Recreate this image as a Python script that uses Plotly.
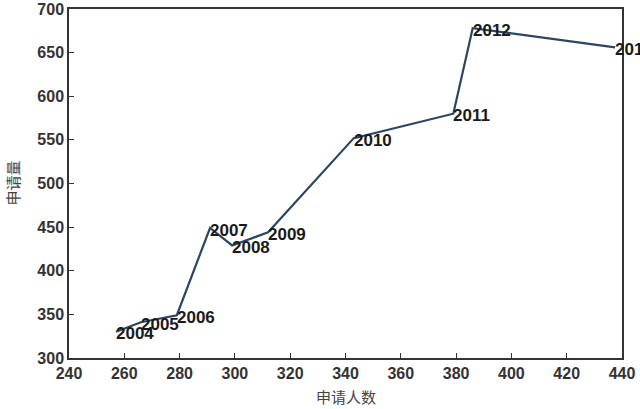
import plotly.graph_objects as go

years = ["2004", "2005", "2006", "2007", "2008", "2009", "2010", "2011", "2012", "2013"]
applicants = [257, 266, 279, 291, 299, 312, 343, 379, 386, 437.5]
applications = [330, 341, 349, 449, 429, 444, 552, 580, 678, 656]

x_ticks = [240, 260, 280, 300, 320, 340, 360, 380, 400, 420, 440]
y_ticks = [300, 350, 400, 450, 500, 550, 600, 650, 700]

fig = go.Figure()
fig.add_trace(go.Scatter(
    x=applicants, y=applications, mode="lines",
    line=dict(color="#2c4560", width=2.2),
    showlegend=False, hoverinfo="skip",
))

point_labels = [
    dict(text=t, x=xv, y=yv, xref="x", yref="y", showarrow=False,
         xanchor="left", yanchor="middle", xshift=-2, yshift=-2,
         font=dict(family="Liberation Sans", size=17, color="#1a1a1a", weight="bold"))
    for t, xv, yv in zip(years, applicants, applications)
]

axis_common = dict(
    showgrid=False, zeroline=False, showline=True, linecolor="#333333", linewidth=1.5,
    mirror=True, ticks="inside", ticklen=5, tickcolor="#333333", automargin=False,
    tickfont=dict(family="Liberation Sans", size=16, color="#333333", weight="bold"),
)

fig.update_layout(
    width=640, height=409,
    margin=dict(l=69, r=18, t=9, b=51),
    paper_bgcolor="white", plot_bgcolor="white",
    xaxis=dict(range=[240, 440], tickvals=x_ticks, **axis_common),
    yaxis=dict(range=[300, 700], tickvals=y_ticks, **axis_common),
    annotations=point_labels + [
        dict(text="申请人数", xref="paper", yref="paper", x=0.5, y=0, yshift=-38,
             showarrow=False, xanchor="center", yanchor="middle",
             font=dict(family="Noto Sans CJK SC", size=15, color="#444444")),
        dict(text="申请量", xref="paper", yref="paper", x=0, y=0.5, xshift=-57,
             showarrow=False, xanchor="center", yanchor="middle", textangle=-90,
             font=dict(family="Noto Sans CJK SC", size=15, color="#444444")),
    ],
)

fig.write_html("out.html", config={"displayModeBar": False},
               post_script="document.body.style.margin='0';document.body.style.overflow='hidden';")
